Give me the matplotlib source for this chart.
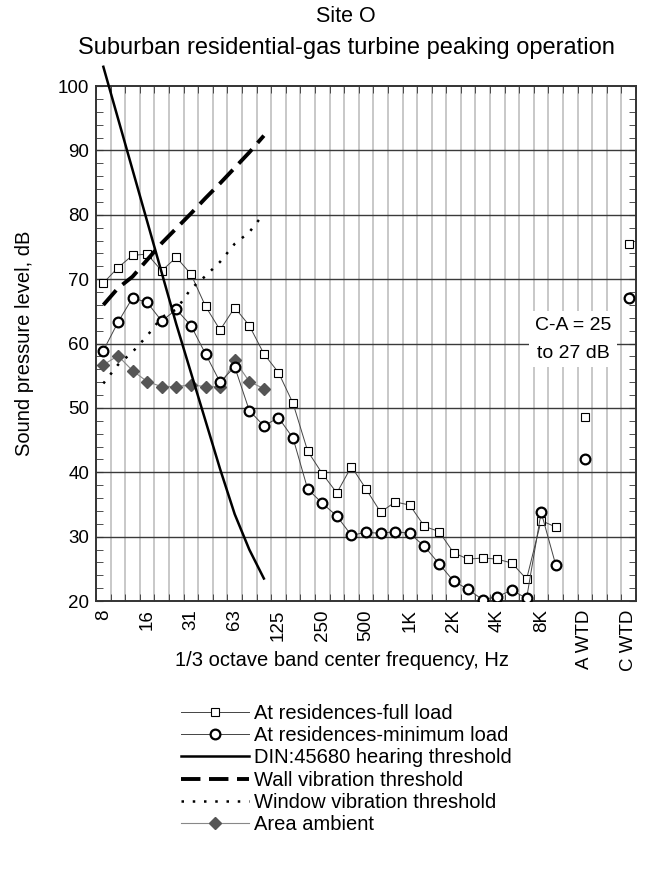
import matplotlib
matplotlib.use("Agg")
import matplotlib.pyplot as plt
import numpy as np

plt.rcParams['font.family'] = ['Liberation Sans', 'DejaVu Sans']

# 1/3 octave band categories (plus weighted totals)
bands = ["8", "10", "12.5", "16", "20", "25", "31.5", "40", "50", "63", "80", "100",
         "125", "160", "200", "250", "315", "400", "500", "630", "800", "1K",
         "1.25K", "1.6K", "2K", "2.5K", "3.15K", "4K", "5K", "6.3K", "8K", "10K",
         "12.5K", "A WTD", "", "", "C WTD"]
shown_labels = ["8", "16", "31", "63", "125", "250", "500", "1K", "2K", "4K", "8K", "A WTD", "C WTD"]
shown_bands = ["8", "16", "31.5", "63", "125", "250", "500", "1K", "2K", "4K", "8K", "A WTD", "C WTD"]

full_load = [69.4, 71.8, 73.7, 73.9, 71.3, 73.4, 70.8, 65.8, 62.1, 65.6, 62.8, 58.4,
             55.5, 50.7, 43.3, 39.8, 36.8, 40.9, 37.4, 33.8, 35.4, 34.9, 31.6, 30.8,
             27.5, 26.5, 26.7, 26.5, 25.9, 23.4, 32.5, 31.5]
min_load = [58.9, 63.3, 67.1, 66.4, 63.5, 65.3, 62.8, 58.4, 54.0, 56.4, 49.6, 47.2,
            48.5, 45.3, 37.4, 35.2, 33.2, 30.2, 30.7, 30.5, 30.8, 30.5, 28.5, 25.8,
            23.1, 21.8, 20.2, 20.7, 21.7, 20.4, 33.8, 25.6]
full_wtd = [48.6, 75.5]   # A WTD, C WTD
min_wtd = [42.0, 67.1]
ambient = [56.7, 58.1, 55.8, 54.1, 53.3, 53.3, 53.6, 53.3, 53.3, 57.4, 54.1, 53.0]
din_threshold = [103, 95, 87, 79, 71, 63, 55.5, 48, 40.5, 33.5, 28, 23.5]
wall_vib = [66.0, 68.6, 70.4, 73.0, 75.6, 77.9, 80.2, 82.6, 84.9, 87.3, 89.7, 92.3]
window_vib = [53.8, 56.7, 58.7, 61.2, 64.1, 65.3, 68.5, 70.5, 72.7, 75.5, 77.3, 80.2]

x_all = np.arange(len(bands))
wtd_x = [bands.index("A WTD"), bands.index("C WTD")]

fig = plt.figure(figsize=(6.49, 8.94), dpi=100)
ax = fig.add_axes([0.148, 0.3277, 0.832, 0.576])

# grid
for v in range(30, 100, 10):
    ax.axhline(v, color='#3a3a3a', lw=1.0, zorder=1)
for b in np.arange(-0.5, len(bands) + 0.5, 1.0)[1:-1]:
    ax.axvline(b, color='#c4c4c4', lw=1.3, zorder=0.5)

ax.plot(x_all[:len(full_load)], full_load, color='#444444', lw=0.7, marker='s', ms=6,
        mfc='white', mec='black', mew=0.8, zorder=4, label='At residences-full load')
ax.plot(x_all[:len(min_load)], min_load, color='#444444', lw=0.7, marker='o', ms=7,
        mfc='white', mec='black', mew=1.6, zorder=5, label='At residences-minimum load')
ax.plot(x_all[:len(din_threshold)], din_threshold, color='black', lw=1.8, zorder=6,
        clip_on=False, label='DIN:45680 hearing threshold')
ax.plot(x_all[:len(wall_vib)], wall_vib, color='black', lw=2.8, dashes=(5, 2.2), zorder=6,
        label='Wall vibration threshold')
ax.plot(x_all[:len(window_vib)], window_vib, color='black', lw=1.8, dashes=(1.0, 3.5), zorder=6,
        label='Window vibration threshold')
ax.plot(x_all[:len(ambient)], ambient, color='#888888', lw=0.8, marker='D', ms=6,
        mfc='#555555', mec='#555555', zorder=4, label='Area ambient')

ax.plot(wtd_x, full_wtd, ls='none', marker='s', ms=6, mfc='white', mec='black', mew=0.8, zorder=4)
ax.plot(wtd_x, min_wtd, ls='none', marker='o', ms=7, mfc='white', mec='black', mew=1.6, zorder=5)

ax.text(32.2, 60.7, "C-A = 25\nto 27 dB", ha='center', va='center', fontsize=14,
        linespacing=1.85, zorder=7,
        bbox=dict(facecolor='white', edgecolor='none', pad=4))

ax.set_xlim(-0.5, len(bands) - 0.5)
ax.set_ylim(20, 100)

ax.set_xticks([bands.index(b) for b in shown_bands])
ax.set_xticklabels(shown_labels, rotation=90, fontsize=13.5)
ax.set_xticks(np.arange(-0.5, len(bands), 1.0), minor=True)
ax.tick_params(axis='x', which='major', length=0, pad=6)
ax.tick_params(axis='x', which='minor', direction='in', length=5, top=True, bottom=True,
               color='#333333')

ax.set_yticks(np.arange(20, 101, 10))
ax.set_yticks(np.arange(20, 101, 2), minor=True)
ax.tick_params(axis='y', which='both', direction='in', length=5, left=True, right=True,
               color='#333333', labelsize=13.5)
ax.tick_params(axis='y', which='major', pad=5)

for s in ax.spines.values():
    s.set_color('#333333')
    s.set_linewidth(1.4)

ax.set_ylabel("Sound pressure level, dB", fontsize=14.5, labelpad=17)
fig.text(342 / 649, 1 - 660 / 894, "1/3 octave band center frequency, Hz",
         ha='center', va='center', fontsize=14.5)
fig.text(346 / 649, 1 - 17 / 894, "Site O", ha='center', va='center', fontsize=15.5)
fig.text(346 / 649, 1 - 48 / 894, "Suburban residential-gas turbine peaking operation",
         ha='center', va='center', fontsize=17)

handles, labels = ax.get_legend_handles_labels()
fig.legend(handles, labels, loc='upper left', bbox_to_anchor=(181 / 649, 1 - 704 / 894),
           frameon=False, fontsize=14.5, handlelength=3.4, handletextpad=0.2,
           labelspacing=0.16, borderpad=0, borderaxespad=0, numpoints=1)

fig.savefig("out.png", dpi=100)
